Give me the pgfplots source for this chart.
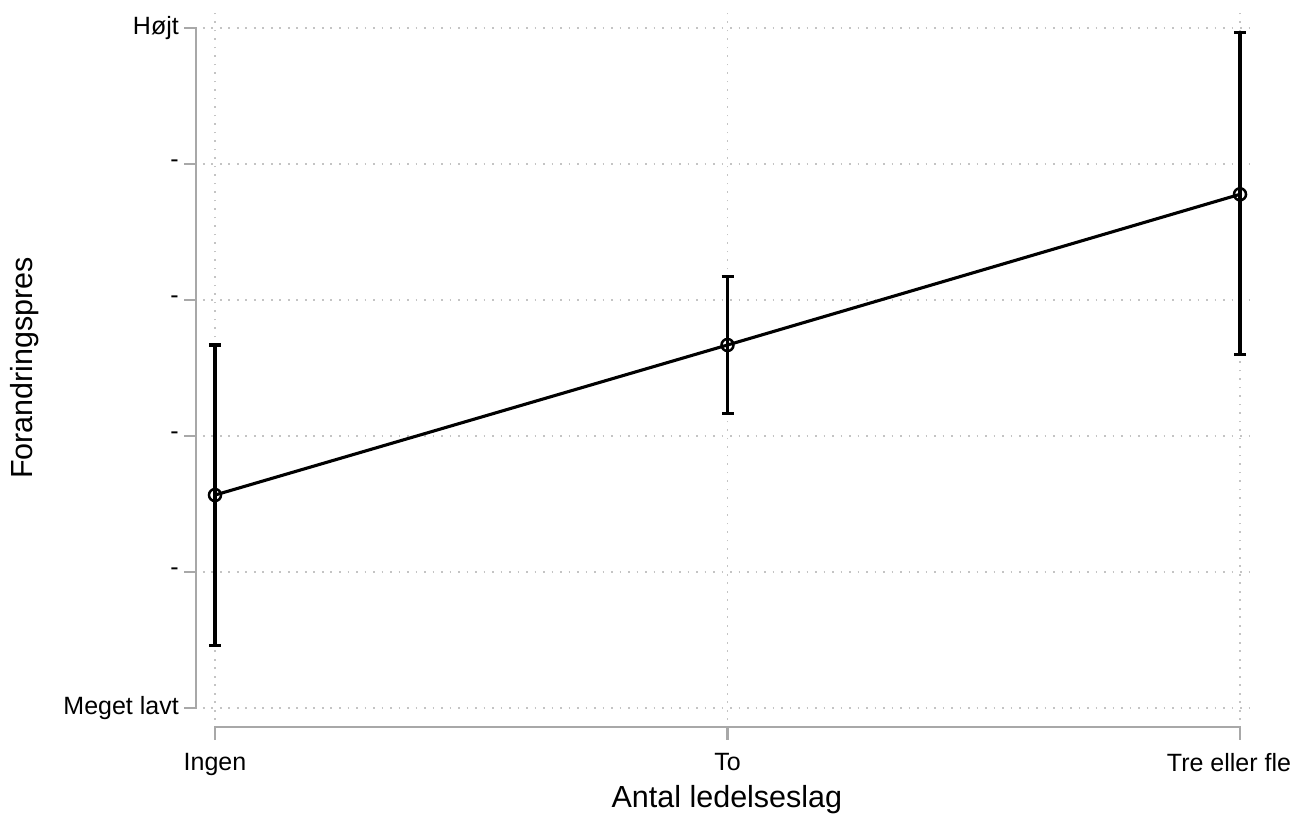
\documentclass[border=0pt]{standalone}
\usepackage{pgfplots}
\pgfplotsset{compat=1.18}
\usepackage{fontspec}
\setmainfont{Liberation Sans}

\definecolor{axisgray}{HTML}{A8A8A8}
\definecolor{gridgray}{HTML}{C4C4C4}

% Predicted level with confidence interval per category
\pgfplotstableread{
x   y      ep     em
0   1.566  1.103  1.103
1   2.669  0.502  0.502
2   3.777  1.187  1.181
}\predicted

\begin{document}
\begin{tikzpicture}
\begin{axis}[
  name=ax,
  scale only axis, width=1052pt, height=710pt,
  xmin=-0.0234, xmax=2.0293,
  ymin=-0.088, ymax=5.132,
  clip=false,
  axis line style={draw=none},
  tick style={draw=none},
  major tick length=0pt,
  xtick={0,1,2},
  xticklabels={Ingen,To,{\hspace*{-22pt}Tre eller fle}},
  ytick={0,1,2,3,4,5},
  yticklabels={Meget lavt,-,-,-,-,Højt},
  tick label style={font=\fontsize{25}{29}\selectfont, text=black, inner sep=0pt},
  xticklabel style={anchor=north, yshift=-33pt},
  yticklabel style={anchor=east, xshift=-24pt},
  grid=major,
  grid style={gridgray, line width=1.8pt, dash pattern=on 1.8pt off 6.7pt},
  xlabel={Antal ledelseslag},
  ylabel={Forandringspres},
  label style={font=\fontsize{30.5}{36}\selectfont, inner sep=0pt},
  xlabel style={at={(axis description cs:0.498,-0.1127)}, anchor=center},
  ylabel style={at={(axis description cs:-0.170,0.496)}, anchor=center, rotate=0},
]
% Axis lines set apart from the plot region, with outward ticks
\draw[axisgray, line width=2.6pt]
  (axis cs:-0.0604,5) -- (axis cs:-0.037,5) -- (axis cs:-0.037,0) -- (axis cs:-0.0604,0);
\pgfplotsinvokeforeach{1,2,3,4}{
  \draw[axisgray, line width=2.6pt] (axis cs:-0.037,#1) -- (axis cs:-0.0604,#1);
}
\draw[axisgray, line width=2.6pt]
  (axis cs:0,-0.2356) -- (axis cs:0,-0.14) -- (axis cs:2,-0.14) -- (axis cs:2,-0.2356);
\draw[axisgray, line width=2.6pt] (axis cs:1,-0.14) -- (axis cs:1,-0.2356);

\addplot[black, line width=3.1pt, mark=o, mark size=6pt,
  mark options={line width=2.5pt, fill=none},
  error bars/.cd, y dir=both, y explicit,
  error bar style={line width=3.1pt, black},
  error mark options={black, line width=3.1pt, mark size=6pt, rotate=90}]
  table[x=x, y=y, y error plus=ep, y error minus=em] {\predicted};
\end{axis}
\pgfresetboundingbox
\path[use as bounding box] (ax.south west) ++(-203pt,-96pt) rectangle ++(1305pt,816pt);
\end{tikzpicture}
\end{document}
